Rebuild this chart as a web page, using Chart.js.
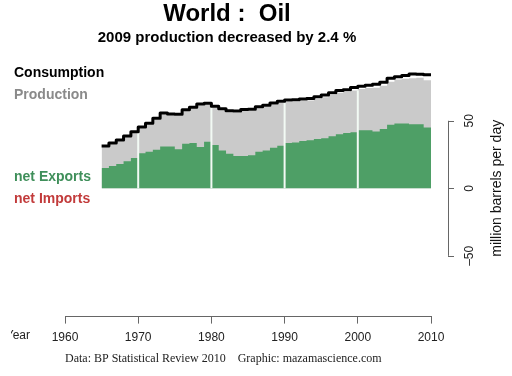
<!DOCTYPE html>
<html>
<head>
<meta charset="utf-8">
<script src="https://cdn.jsdelivr.net/npm/chart.js@4.4.0/dist/chart.umd.min.js"></script>
<style>
  html, body { margin: 0; padding: 0; background: #fff; }
  #chart { display: block; }
</style>
</head>
<body>
<canvas id="chart" width="512" height="376"></canvas>
<script>
// World oil, million barrels per day
const years = [1965, 1966, 1967, 1968, 1969, 1970, 1971, 1972, 1973, 1974,
               1975, 1976, 1977, 1978, 1979, 1980, 1981, 1982, 1983, 1984,
               1985, 1986, 1987, 1988, 1989, 1990, 1991, 1992, 1993, 1994,
               1995, 1996, 1997, 1998, 1999, 2000, 2001, 2002, 2003, 2004,
               2005, 2006, 2007, 2008, 2009];
const consumption = [31.3, 33.5, 35.7, 38.7, 41.9, 45.4, 48.1, 51.8, 55.8, 55.1,
                     54.8, 58.2, 60.1, 62.5, 63.0, 60.8, 58.9, 57.4, 57.2, 58.3,
                     58.5, 60.3, 61.5, 63.2, 64.4, 65.3, 65.6, 66.2, 66.5, 67.8,
                     69.0, 70.7, 72.5, 73.0, 74.6, 75.6, 76.3, 77.1, 78.6, 81.5,
                     82.6, 83.5, 84.7, 84.5, 84.1];
const production = [30.5, 32.7, 34.9, 37.9, 41.0, 44.5, 47.2, 50.8, 54.8, 54.2,
                    53.8, 57.2, 59.2, 61.5, 62.0, 59.8, 57.8, 56.3, 56.0, 57.2,
                    57.3, 59.2, 60.4, 62.0, 63.2, 64.1, 64.3, 64.9, 65.1, 66.3,
                    67.5, 69.0, 70.7, 71.3, 72.5, 73.5, 74.2, 74.5, 76.0, 78.9,
                    80.6, 81.2, 81.5, 81.8, 80.0];
const netExports = [15.0, 16.5, 18.0, 20.0, 22.5, 26.0, 27.0, 28.5, 31.0, 31.0,
                    29.0, 33.0, 33.5, 30.5, 34.5, 32.0, 28.0, 25.5, 24.0, 24.0,
                    24.5, 27.0, 28.0, 30.0, 31.5, 33.5, 34.0, 35.0, 35.5, 36.5,
                    37.0, 38.5, 40.0, 41.0, 41.5, 43.0, 43.0, 42.0, 44.0, 47.0,
                    48.0, 48.0, 47.5, 47.5, 45.0];
const xTicks = [1960, 1970, 1980, 1990, 2000, 2010];
const yTicks = [-50, 0, 50];
const decadeYears = [1970, 1980, 1990, 2000];

const SANS = '"Liberation Sans", Arial, Helvetica, sans-serif';
const SERIF = '"Liberation Serif", "Times New Roman", serif';

// each year's value holds until the next year; close the final step at year end
function stepPoints(values) {
    const pts = years.map((yr, i) => ({ x: yr, y: values[i] }));
    pts.push({ x: years[years.length - 1] + 1, y: values[values.length - 1] });
    return pts;
}

const decorations = {
    id: 'decorations',
    afterDatasetDraw(chart, args) {
        if (args.index !== 2) return; // white decade lines go over the green, under the black line
        const { ctx, scales: { x, y } } = chart;
        ctx.save();
        ctx.strokeStyle = '#f2faf4';
        ctx.lineWidth = 2;
        decadeYears.forEach(yr => {
            const i = years.indexOf(yr);
            const top = Math.min(production[i - 1], production[i]);
            const px = x.getPixelForValue(yr);
            ctx.beginPath();
            ctx.moveTo(px, y.getPixelForValue(0));
            ctx.lineTo(px, y.getPixelForValue(top));
            ctx.stroke();
        });
        ctx.restore();
    },
    afterDraw(chart) {
        const { ctx, scales: { y }, chartArea } = chart;
        ctx.save();
        ctx.textBaseline = 'alphabetic';

        // titles
        ctx.fillStyle = '#000';
        ctx.textAlign = 'center';
        ctx.font = 'bold 24px ' + SANS;
        ctx.fillText('World :  Oil', 227, 21);
        ctx.font = 'bold 15px ' + SANS;
        ctx.fillText('2009 production decreased by 2.4 %', 227, 42);

        // left legend
        ctx.textAlign = 'left';
        ctx.font = 'bold 14px ' + SANS;
        const legend = [
            ['Consumption', '#000000', 77],
            ['Production', '#8a8a8a', 99],
            ['net Exports', '#3f8f5a', 181],
            ['net Imports', '#c23b3b', 203]
        ];
        legend.forEach(([txt, col, by]) => {
            ctx.fillStyle = col;
            ctx.fillText(txt, 14, by);
        });

        // right axis bracket
        const ax = chartArea.right + 17;
        ctx.strokeStyle = '#666';
        ctx.lineWidth = 1;
        ctx.beginPath();
        ctx.moveTo(ax + 0.5, y.getPixelForValue(yTicks[yTicks.length - 1]));
        ctx.lineTo(ax + 0.5, y.getPixelForValue(yTicks[0]));
        yTicks.forEach(v => {
            const py = Math.round(y.getPixelForValue(v)) + 0.5;
            ctx.moveTo(ax, py);
            ctx.lineTo(ax + 6, py);
        });
        ctx.stroke();

        ctx.fillStyle = '#222';
        ctx.textAlign = 'center';
        ctx.textBaseline = 'middle';
        ctx.font = '12px ' + SANS;
        yTicks.forEach(v => {
            ctx.save();
            ctx.translate(ax + 22, y.getPixelForValue(v));
            ctx.rotate(-Math.PI / 2);
            ctx.fillText(v < 0 ? '\u2013' + Math.abs(v) : String(v), 0, 0);
            ctx.restore();
        });
        ctx.save();
        ctx.fillStyle = '#111';
        ctx.font = '14px ' + SANS;
        ctx.translate(ax + 49, y.getPixelForValue(0));
        ctx.rotate(-Math.PI / 2);
        ctx.fillText('million barrels per day', 0, 0);
        ctx.restore();

        // x axis name, cut off at the left edge as in the original
        ctx.save();
        ctx.beginPath();
        ctx.rect(11, 300, 60, 60);
        ctx.clip();
        ctx.textAlign = 'right';
        ctx.textBaseline = 'alphabetic';
        ctx.fillStyle = '#222';
        ctx.font = '12px ' + SANS;
        ctx.fillText('Year', 30, 339);
        ctx.restore();

        // source line
        ctx.textAlign = 'left';
        ctx.textBaseline = 'alphabetic';
        ctx.fillStyle = '#222';
        ctx.font = '12px ' + SERIF;
        ctx.fillText('Data: BP Statistical Review 2010    Graphic: mazamascience.com', 65, 362);

        ctx.restore();
    }
};

new Chart(document.getElementById('chart'), {
    type: 'line',
    data: {
        datasets: [
            {
                label: 'Consumption',
                data: stepPoints(consumption),
                borderColor: '#000',
                borderWidth: 3,
                borderJoinStyle: 'round',
                stepped: true,
                fill: false,
                pointRadius: 0,
                order: 0
            },
            {
                label: 'Production',
                data: stepPoints(production),
                borderColor: 'rgba(0,0,0,0)',
                borderWidth: 0,
                backgroundColor: '#cacaca',
                stepped: true,
                fill: 'origin',
                pointRadius: 0,
                order: 2
            },
            {
                label: 'net Exports',
                data: stepPoints(netExports),
                borderColor: 'rgba(0,0,0,0)',
                borderWidth: 0,
                backgroundColor: '#4e9f66',
                stepped: true,
                fill: 'origin',
                pointRadius: 0,
                order: 1
            }
        ]
    },
    options: {
        responsive: false,
        animation: false,
        devicePixelRatio: 1,
        layout: { padding: { left: 65, right: 81, top: 60, bottom: 24 } },
        plugins: {
            legend: { display: false },
            tooltip: { enabled: false }
        },
        scales: {
            x: {
                type: 'linear',
                min: 1960,
                max: 2010,
                afterBuildTicks: s => { s.ticks = xTicks.map(v => ({ value: v })); },
                border: { color: '#666', width: 1 },
                grid: { drawOnChartArea: false, drawTicks: true, tickLength: 7, color: '#666' },
                ticks: {
                    color: '#222',
                    font: { size: 12, family: SANS },
                    padding: 7,
                    maxRotation: 0,
                    autoSkip: false,
                    callback: v => String(v)
                }
            },
            y: {
                display: false,
                min: -95,
                max: 95
            }
        }
    },
    plugins: [decorations]
});
</script>
</body>
</html>
